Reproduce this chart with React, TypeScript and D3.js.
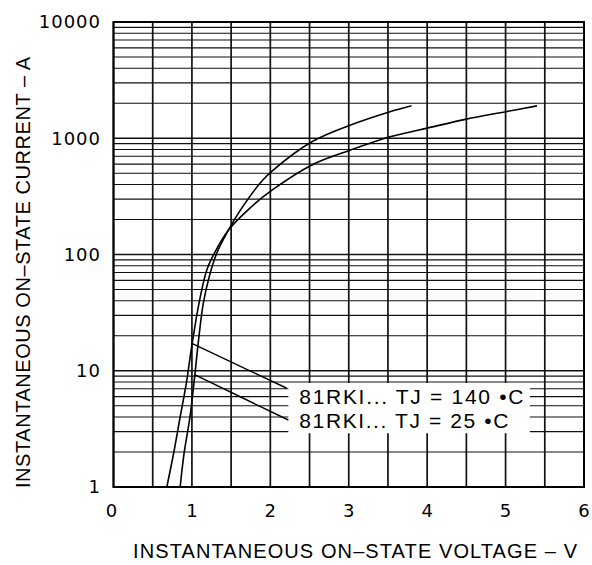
import React, { useEffect, useRef } from 'react'
import * as d3 from 'd3'

const chartWidth = 592
const chartHeight = 565

// curve values (V, A)
const voltage25 = [0.85, 0.9, 0.975, 1.035, 1.08, 1.145, 1.225, 1.315, 1.465, 1.62, 1.89, 2.025, 2.53, 3.025, 3.527, 3.8]
const current25 = [1, 1.95, 4.0, 8.9, 17.2, 38, 66, 102, 162, 242, 427, 525, 933, 1300, 1690, 1900]
const voltage140 = [0.68, 0.77, 0.85, 0.93, 1.0, 1.09, 1.19, 1.3, 1.465, 1.74, 2.025, 2.53, 3.025, 3.527, 4.04, 4.5, 5.0, 5.4]
const current140 = [1, 2.0, 4.0, 7.9, 16.6, 38, 73.6, 107, 162, 251, 359, 589, 792, 1030, 1240, 1460, 1690, 1900]

const xTicks = [0, 1, 2, 3, 4, 5, 6]
const yTicks = [1, 10, 100, 1000, 10000]
const legendLabels = ['81RKI...  TJ  =  140 \u2022C', '81RKI...  TJ  =  25 \u2022C']

const styles = {
  grid: { stroke: '#111', width: 1.2 },
  frame: { stroke: '#000', width: 2 },
  curve: { stroke: '#000', width: 1.6 },
  tick: { fontSize: '18px', fontFamily: 'DejaVu Sans' },
  label: { fontSize: '20px', fontFamily: 'Liberation Sans' },
}

function drawChart(node: SVGSVGElement) {
  const svg = d3.select(node)
  svg.selectAll('*').remove()

  const x = d3.scaleLinear().domain([0, 6]).range([113.5, 584])
  const y = d3.scaleLog().domain([1, 10000]).range([487, 22])

  svg.append('rect').attr('width', chartWidth).attr('height', chartHeight).style('fill', '#fff')

  const grid = svg.append('g')
  const vLines = d3.range(0, 6.01, 0.5)
  grid
    .selectAll('.v')
    .data(vLines)
    .enter()
    .append('line')
    .attr('x1', d => x(d))
    .attr('x2', d => x(d))
    .attr('y1', y(1))
    .attr('y2', y(10000))
    .style('stroke', styles.grid.stroke)
    .style('stroke-width', 1.7)

  const hLines: number[] = []
  for (let d = 0; d < 4; d++) for (let k = 1; k < 10; k++) hLines.push(k * Math.pow(10, d))
  grid
    .selectAll('.h')
    .data(hLines)
    .enter()
    .append('line')
    .attr('x1', x(0))
    .attr('x2', x(6))
    .attr('y1', d => y(d))
    .attr('y2', d => y(d))
    .style('stroke', styles.grid.stroke)
    .style('stroke-width', d => (yTicks.includes(d) ? 1.7 : styles.grid.width))

  // legend box blanks out the grid
  const boxX0 = x(2.23)
  const boxX1 = x(5.31)
  const boxY0 = y(7.85)
  const boxY1 = y(2.9)
  svg
    .append('rect')
    .attr('x', boxX0)
    .attr('y', boxY0)
    .attr('width', boxX1 - boxX0)
    .attr('height', boxY1 - boxY0)
    .style('fill', '#fff')

  svg
    .append('rect')
    .attr('x', x(0))
    .attr('y', y(10000))
    .attr('width', x(6) - x(0))
    .attr('height', y(1) - y(10000))
    .style('fill', 'none')
    .style('stroke', styles.frame.stroke)
    .style('stroke-width', styles.frame.width)

  const line = d3
    .line<[number, number]>()
    .x(d => x(d[0]))
    .y(d => y(d[1]))
    .curve(d3.curveCatmullRom.alpha(0.5))

  const series = [
    voltage25.map((v, i) => [v, current25[i]] as [number, number]),
    voltage140.map((v, i) => [v, current140[i]] as [number, number]),
  ]
  svg
    .selectAll('.curve')
    .data(series)
    .enter()
    .append('path')
    .attr('d', d => line(d))
    .style('fill', 'none')
    .style('stroke', styles.curve.stroke)
    .style('stroke-width', styles.curve.width)

  // leader lines: curve point -> legend
  const leaders = [
    [[1.0, 17.2], [2.21, 7.07]],
    [[1.04, 9.2], [2.23, 3.77]],
  ]
  svg
    .selectAll('.leader')
    .data(leaders)
    .enter()
    .append('line')
    .attr('x1', d => x(d[0][0]))
    .attr('y1', d => y(d[0][1]))
    .attr('x2', d => x(d[1][0]))
    .attr('y2', d => y(d[1][1]))
    .style('stroke', '#000')
    .style('stroke-width', 1.4)

  svg
    .selectAll('.legend')
    .data(legendLabels)
    .enter()
    .append('text')
    .attr('x', x(2.37))
    .attr('y', (d, i) => 404 + i * 24)
    .attr('textLength', (d, i) => (i === 0 ? 224 : 209))
    .attr('lengthAdjust', 'spacing')
    .style('font-size', '21px')
    .style('font-family', styles.label.fontFamily)
    .text(d => d)

  svg
    .selectAll('.xtick')
    .data(xTicks)
    .enter()
    .append('text')
    .attr('x', d => x(d) - (d === 0 ? 2 : 0))
    .attr('y', 517)
    .attr('text-anchor', 'middle')
    .style('font-size', styles.tick.fontSize)
    .style('font-family', styles.tick.fontFamily)
    .text(d => d)

  svg
    .selectAll('.ytick')
    .data(yTicks)
    .enter()
    .append('text')
    .attr('x', 101)
    .attr('y', d => y(d))
    .attr('dy', '0.36em')
    .attr('text-anchor', 'end')
    .style('font-size', styles.tick.fontSize)
    .style('font-family', styles.tick.fontFamily)
    .style('letter-spacing', '1px')
    .text(d => d)

  svg
    .append('text')
    .attr('x', 133)
    .attr('y', 558)
    .attr('textLength', 444)
    .attr('lengthAdjust', 'spacing')
    .style('font-size', styles.label.fontSize)
    .style('font-family', styles.label.fontFamily)
    .text('INSTANTANEOUS  ON\u2013STATE  VOLTAGE  \u2013  V')

  svg
    .append('text')
    .attr('transform', 'translate(30,488) rotate(-90)')
    .attr('textLength', 431)
    .attr('lengthAdjust', 'spacing')
    .style('font-size', styles.label.fontSize)
    .style('font-family', styles.label.fontFamily)
    .text('INSTANTANEOUS  ON\u2013STATE  CURRENT  \u2013  A')
}

export default function App() {
  const ref = useRef<SVGSVGElement>(null)

  useEffect(() => {
    if (ref.current) drawChart(ref.current)
  }, [])

  return (
    <svg
      ref={ref}
      width={chartWidth}
      height={chartHeight}
      style={{ position: 'absolute', left: 0, top: 0 }}
    />
  )
}
